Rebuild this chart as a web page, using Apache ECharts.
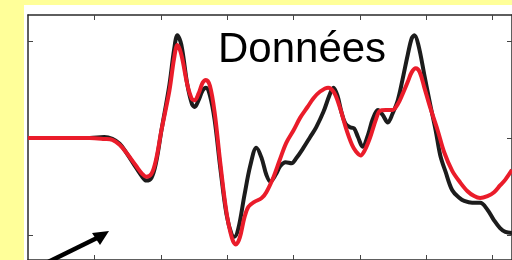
<!DOCTYPE html>
<html>
<head>
<meta charset="utf-8">
<script src="https://cdn.jsdelivr.net/npm/echarts@6/dist/echarts.min.js"></script>
<style>
html, body { margin: 0; padding: 0; background: #ffff99; }
#main { width: 512px; height: 260px; }
</style>
</head>
<body>
<div id="main"></div>
<script>
// mesure (noir)
var tBlack = [0, 0.93, 1.15, 1.27, 1.38, 1.48, 1.63, 1.72, 1.78, 1.86, 1.93, 2.01, 2.13, 2.20, 2.25, 2.31, 2.40, 2.47, 2.51, 2.57, 2.63, 2.68, 2.74, 2.81, 2.90, 2.99, 3.07, 3.11, 3.17, 3.26, 3.35, 3.44, 3.52, 3.59, 3.65, 3.73, 3.80, 3.88, 3.97, 4.04, 4.15, 4.25, 4.34, 4.45, 4.54, 4.60, 4.66, 4.72, 4.78, 4.85, 4.91, 4.97, 5.04, 5.12, 5.19, 5.27, 5.34, 5.42, 5.49, 5.57, 5.64, 5.72, 5.78, 5.82, 5.88, 5.97, 6.06, 6.14, 6.21, 6.29, 6.39, 6.50, 6.57, 6.69, 6.81, 6.92, 7.02, 7.11, 7.19, 7.29];
var vBlack = [0, 0, 0.01, -0.01, -0.06, -0.15, -0.31, -0.40, -0.44, -0.41, -0.25, 0.08, 0.55, 0.91, 1.06, 0.96, 0.55, 0.35, 0.32, 0.39, 0.49, 0.52, 0.44, 0.19, -0.33, -0.79, -1.00, -1.02, -0.93, -0.59, -0.28, -0.10, -0.21, -0.38, -0.45, -0.38, -0.29, -0.25, -0.26, -0.21, -0.10, 0.01, 0.11, 0.27, 0.44, 0.52, 0.44, 0.27, 0.15, 0.11, 0.10, 0.01, -0.09, 0.03, 0.19, 0.29, 0.24, 0.16, 0.25, 0.39, 0.60, 0.86, 1.03, 1.06, 0.96, 0.65, 0.34, 0.08, -0.18, -0.35, -0.54, -0.62, -0.65, -0.67, -0.67, -0.74, -0.85, -0.93, -0.97, -0.98];

// modèle (rouge)
var tRed = [0, 0.93, 1.15, 1.27, 1.38, 1.48, 1.63, 1.72, 1.78, 1.86, 1.93, 2.01, 2.13, 2.20, 2.25, 2.31, 2.40, 2.47, 2.51, 2.57, 2.63, 2.68, 2.74, 2.81, 2.90, 2.99, 3.07, 3.13, 3.19, 3.26, 3.32, 3.41, 3.52, 3.59, 3.70, 3.79, 3.89, 4.00, 4.10, 4.21, 4.30, 4.40, 4.52, 4.61, 4.70, 4.79, 4.88, 4.94, 5.01, 5.07, 5.15, 5.24, 5.30, 5.39, 5.49, 5.57, 5.64, 5.72, 5.78, 5.84, 5.90, 5.97, 6.06, 6.17, 6.27, 6.39, 6.51, 6.62, 6.72, 6.81, 6.92, 7.02, 7.11, 7.19, 7.29];
var vRed = [0, 0, -0.01, -0.02, -0.07, -0.15, -0.29, -0.37, -0.40, -0.37, -0.22, 0.08, 0.49, 0.82, 0.96, 0.86, 0.55, 0.40, 0.39, 0.46, 0.57, 0.60, 0.54, 0.27, -0.28, -0.77, -1.03, -1.10, -1.03, -0.82, -0.71, -0.66, -0.62, -0.56, -0.40, -0.23, -0.05, 0.08, 0.21, 0.32, 0.41, 0.48, 0.52, 0.47, 0.31, 0.10, -0.07, -0.14, -0.18, -0.13, 0.00, 0.19, 0.28, 0.29, 0.29, 0.35, 0.45, 0.58, 0.68, 0.72, 0.68, 0.52, 0.31, 0.08, -0.15, -0.34, -0.46, -0.55, -0.60, -0.62, -0.60, -0.56, -0.49, -0.43, -0.33];

var xTicks = [1, 2, 3, 4, 5, 6, 7];
var yTicks = [-1, 0, 1];

function pairs(t, v) {
  return t.map(function (x, i) { return [x, v[i]]; });
}

var axisColor = '#2a2a2a';
function xAx(pos) {
  return {
    type: 'value', position: pos, min: 0, max: 7.29,
    axisLine: { show: true, onZero: false, lineStyle: { color: axisColor, width: 1.5 } },
    axisTick: { show: true, inside: true, length: 5, customValues: xTicks, lineStyle: { color: '#444' } },
    axisLabel: { show: false }, splitLine: { show: false }
  };
}
function yAx(pos) {
  return {
    type: 'value', position: pos, min: -1.26, max: 1.27,
    axisLine: { show: true, onZero: false, lineStyle: { color: axisColor, width: 1.5 } },
    axisTick: { show: true, inside: true, length: 5, customValues: yTicks, lineStyle: { color: '#444' } },
    axisLabel: { show: false }, splitLine: { show: false }
  };
}

var myChart = echarts.init(document.getElementById('main'));
var option = {
  animation: false,
  backgroundColor: '#ffff99',
  title: {
    text: 'Données',
    left: 218, top: 29, padding: 0,
    textStyle: { fontFamily: 'Liberation Sans', fontSize: 42, fontWeight: 'normal', color: '#000' }
  },
  grid: { left: 28, top: 15, right: -3, bottom: -1 },
  xAxis: [xAx('bottom'), xAx('top')],
  yAxis: [yAx('left'), yAx('right')],
  graphic: [
    { type: 'rect', z: -10, shape: { x: 24, y: 5, width: 520, height: 270 }, style: { fill: '#ffffff' } },
    { type: 'line', z: 100, shape: { x1: 40, y1: 266, x2: 99, y2: 237 }, style: { stroke: '#000', lineWidth: 4.5 } },
    { type: 'polygon', z: 100, shape: { points: [[109, 231], [92, 233], [100, 245]] }, style: { fill: '#000' } }
  ],
  series: [
    {
      type: 'line', data: pairs(tBlack, vBlack), smooth: 0.35, showSymbol: false,
      lineStyle: { color: '#1c1c1c', width: 4 }, z: 2
    },
    {
      type: 'line', data: pairs(tRed, vRed), smooth: 0.35, showSymbol: false,
      lineStyle: { color: '#ea1c2a', width: 4 }, z: 3
    }
  ]
};
myChart.setOption(option);
</script>
</body>
</html>
